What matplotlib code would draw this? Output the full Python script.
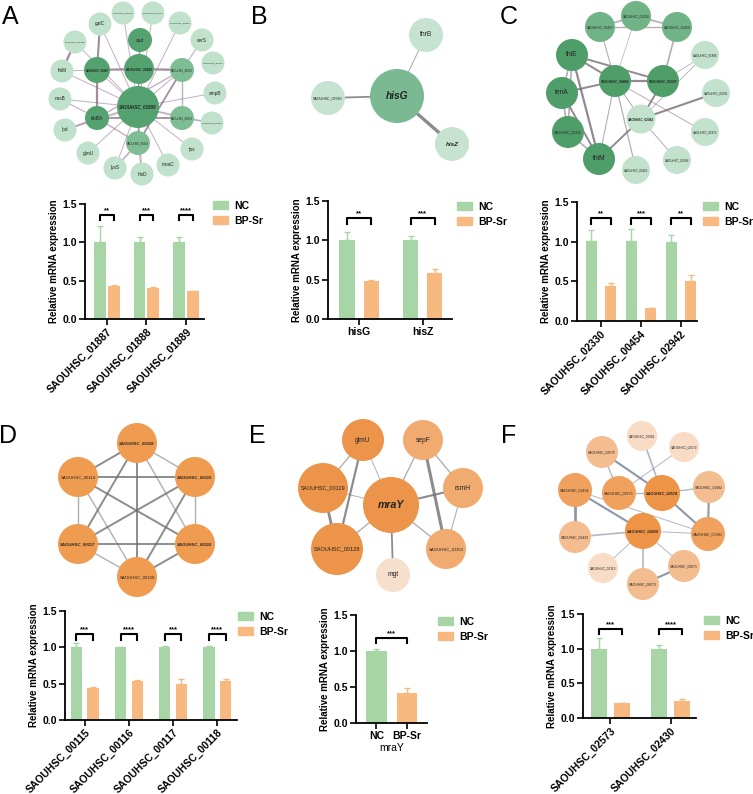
import numpy as np
import matplotlib.pyplot as plt
from matplotlib.patches import Circle, Patch

plt.rcParams['font.family'] = ['Liberation Sans', 'DejaVu Sans']

W, H = 753, 794
GREEN = '#a8d5a5'
ORANGE = '#f7b97f'

# ---------------- qPCR data ----------------
a_genes = ['SAOUHSC_01887', 'SAOUHSC_01888', 'SAOUHSC_01889']
a_nc = [1.01, 1.0, 1.0]
a_nc_err = [0.20, 0.07, 0.07]
a_bp = [0.43, 0.41, 0.36]
a_bp_err = [0.02, 0.01, 0.01]
a_sig = ['**', '***', '****']

b_genes = ['hisG', 'hisZ']
b_nc = [1.0, 1.0]
b_nc_err = [0.10, 0.05]
b_bp = [0.48, 0.59]
b_bp_err = [0.02, 0.04]
b_sig = ['**', '***']

c_genes = ['SAOUHSC_02330', 'SAOUHSC_00454', 'SAOUHSC_02942']
c_nc = [1.01, 1.01, 1.0]
c_nc_err = [0.14, 0.15, 0.09]
c_bp = [0.44, 0.16, 0.51]
c_bp_err = [0.04, 0.01, 0.07]
c_sig = ['**', '***', '**']

d_genes = ['SAOUHSC_00115', 'SAOUHSC_00116', 'SAOUHSC_00117', 'SAOUHSC_00118']
d_nc = [1.0, 1.0, 1.0, 1.0]
d_nc_err = [0.06, 0.01, 0.02, 0.02]
d_bp = [0.44, 0.54, 0.49, 0.53]
d_bp_err = [0.02, 0.01, 0.08, 0.04]
d_sig = ['***', '****', '***', '****']

e_groups = ['NC', 'BP-Sr']
e_vals = [1.0, 0.42]
e_err = [0.03, 0.07]
e_sig = '***'

f_genes = ['SAOUHSC_02573', 'SAOUHSC_02430']
f_nc = [1.0, 1.0]
f_nc_err = [0.15, 0.06]
f_bp = [0.21, 0.25]
f_bp_err = [0.01, 0.02]
f_sig = ['***', '****']

# ---------------- networks ----------------
# node names, cytoscape-like layout (pixel positions), node radius, shade index
a_nodes = ['SAOUHSC_01889', 'asd', 'SAOUHSC_01888', 'SAOUHSC_01887', 'SAOUHSC_01890',
           'ribBA', 'SAOUHSC_01891', 'SAOUHSC_01892', 'SAOUHSC_00476', 'SAOUHSC_00477',
           'SAOUHSC_01894', 'gatC', 'serS', 'SAOUHSC_00899', 'SAOUHSC_02001', 'thiM',
           'ampB', 'nusB', 'SAOUHSC_01902', 'lpd', 'tpx', 'glmU', 'lysS', 'hisD', 'moaC']
a_pos = [(138, 107), (140, 40), (139, 69), (97, 70), (182, 70), (97, 118), (182, 118),
         (138, 143), (123, 13), (153, 13), (180, 23), (100, 24), (202, 40), (75, 42),
         (213, 63), (62, 71), (215, 93), (60, 99), (212, 123), (65, 130), (192, 149),
         (88, 153), (115, 168), (142, 174), (168, 165)]
a_rad = [21, 12, 15, 13, 12, 12, 12, 12] + [11.5] * 17
a_tone = [0, 0, 0, 0, 1, 0, 1, 1] + [2] * 17
a_key = ['SAOUHSC_01889', 'SAOUHSC_01888', 'SAOUHSC_01887']
a_edges = [('SAOUHSC_01889', g, 0.7) for g in a_nodes[1:] if g not in ('serS', 'SAOUHSC_02001')]
a_edges += [('SAOUHSC_01887', 'ribBA', 1.6), ('SAOUHSC_01887', 'SAOUHSC_01888', 1.6),
            ('SAOUHSC_01888', 'asd', 1.2), ('SAOUHSC_01888', 'SAOUHSC_01890', 1.6),
            ('SAOUHSC_01890', 'ribBA', 1.0), ('ribBA', 'SAOUHSC_01892', 1.0),
            ('ribBA', 'lpd', 1.2), ('ribBA', 'nusB', 0.8), ('SAOUHSC_01887', 'gatC', 1.5),
            ('SAOUHSC_01887', 'thiM', 0.7), ('thiM', 'SAOUHSC_00899', 1.6),
            ('SAOUHSC_01890', 'serS', 0.8), ('SAOUHSC_01890', 'SAOUHSC_01891', 1.0),
            ('SAOUHSC_01891', 'SAOUHSC_01902', 0.7), ('ribBA', 'SAOUHSC_01891', 1.3),
            ('SAOUHSC_01892', 'lysS', 1.2), ('SAOUHSC_01892', 'hisD', 0.8),
            ('SAOUHSC_01888', 'SAOUHSC_01892', 0.8), ('SAOUHSC_01890', 'SAOUHSC_01892', 1.3)]
a_pal = ['#55a271', '#7fbe93', '#c0e1cb']

b_nodes = ['hisG', 'thrB', 'SAOUHSC_01580', 'hisZ']
b_pos = [(397, 96), (426, 35), (328, 98), (452, 144)]
b_rad = [27, 17, 17, 17]
b_tone = [1, 2, 2, 2]
b_key = ['hisG', 'hisZ']
b_edges = [('hisG', 'thrB', 0.8), ('hisG', 'SAOUHSC_01580', 1.3), ('hisG', 'hisZ', 2.4)]
b_pal = ['#55a271', '#7bb992', '#c6e2d1']

c_nodes = ['SAOUHSC_00454', 'SAOUHSC_02330', 'SAOUHSC_02942', 'thiE', 'tenA',
           'SAOUHSC_02332', 'thiM', 'SAOUHSC_00457', 'SAOUHSC_00458', 'SAOUHSC_00459',
           'SAOUHSC_01888', 'SAOUHSC_02691', 'SAOUHSC_01972', 'SAOUHSC_01606',
           'SAOUHSC_00110']
c_pos = [(615, 81), (663, 81), (641, 119), (572, 55), (562, 93), (568, 132), (599, 159),
         (600, 27), (636, 16), (677, 27), (705, 55), (716, 93), (705, 132), (677, 160),
         (636, 170)]
c_rad = [16, 16, 14.5, 16, 16, 16, 16, 15, 15, 15, 14, 14, 14, 14, 14]
c_tone = [0, 0, 2, 0, 0, 0, 0, 1, 1, 1, 2, 2, 2, 2, 2]
c_key = ['SAOUHSC_00454', 'SAOUHSC_02330', 'SAOUHSC_02942']
c_edges = [('SAOUHSC_00457', 'SAOUHSC_00458', 1.2), ('SAOUHSC_00458', 'SAOUHSC_00459', 1.2),
           ('SAOUHSC_00457', 'SAOUHSC_00459', 1.0), ('SAOUHSC_00454', 'SAOUHSC_02330', 1.6),
           ('thiE', 'SAOUHSC_00454', 1.4), ('thiE', 'SAOUHSC_02330', 1.4), ('thiE', 'tenA', 1.2),
           ('thiE', 'thiM', 1.6), ('thiE', 'SAOUHSC_02332', 1.2), ('tenA', 'SAOUHSC_00454', 1.4),
           ('tenA', 'SAOUHSC_02332', 1.2), ('tenA', 'thiM', 1.4), ('SAOUHSC_02332', 'thiM', 1.2),
           ('thiM', 'SAOUHSC_00454', 0.8), ('thiM', 'SAOUHSC_02942', 1.4),
           ('SAOUHSC_00454', 'SAOUHSC_02942', 0.8), ('SAOUHSC_02330', 'SAOUHSC_02942', 1.4),
           ('SAOUHSC_00454', 'SAOUHSC_00457', 0.8), ('SAOUHSC_02330', 'SAOUHSC_00459', 1.2),
           ('SAOUHSC_02942', 'SAOUHSC_01888', 0.6), ('SAOUHSC_02942', 'SAOUHSC_02691', 1.5),
           ('SAOUHSC_02942', 'SAOUHSC_01606', 0.7), ('SAOUHSC_00454', 'SAOUHSC_00110', 0.9),
           ('SAOUHSC_00454', 'SAOUHSC_01972', 0.7), ('SAOUHSC_02330', 'SAOUHSC_01888', 0.6),
           ('SAOUHSC_00458', 'SAOUHSC_00454', 0.5)]
c_pal = ['#4f9e6a', '#70b386', '#c2e2cd']

d_nodes = ['SAOUHSC_00118', 'SAOUHSC_00114', 'SAOUHSC_00115', 'SAOUHSC_00117',
           'SAOUHSC_00116', 'SAOUHSC_00120']
d_pos = [(137, 443), (78, 477), (195, 477), (78, 544), (195, 544), (137, 577)]
d_rad = [20] * 6
d_tone = [0] * 6
d_key = ['SAOUHSC_00115', 'SAOUHSC_00116', 'SAOUHSC_00117', 'SAOUHSC_00118']
d_edges = [(d_nodes[i], d_nodes[j], 1.4 if (i + j) % 2 else 1.0)
           for i in range(6) for j in range(i + 1, 6)]
d_pal = ['#ef9b50']

e_nodes = ['mraY', 'glmU', 'sepF', 'SAOUHSC_00129', 'rsmH', 'SAOUHSC_00128',
           'SAOUHSC_01153', 'mgt']
e_pos = [(391, 505), (363, 440), (423, 440), (323, 488), (463, 488), (337, 549),
         (446, 549), (393, 575)]
e_rad = [28, 21, 20, 25, 20, 26, 20, 17]
e_tone = [0, 0, 1, 0, 1, 0, 1, 2]
e_key = ['mraY']
e_edges = [('mraY', 'glmU', 0.7), ('mraY', 'sepF', 1.0), ('mraY', 'SAOUHSC_00129', 0.7),
           ('mraY', 'rsmH', 1.5), ('mraY', 'SAOUHSC_00128', 1.0), ('mraY', 'SAOUHSC_01153', 1.0),
           ('mraY', 'mgt', 1.3), ('glmU', 'SAOUHSC_00129', 1.0), ('glmU', 'SAOUHSC_00128', 1.6),
           ('SAOUHSC_00129', 'SAOUHSC_00128', 2.0), ('sepF', 'rsmH', 1.0),
           ('sepF', 'SAOUHSC_01153', 2.2), ('rsmH', 'SAOUHSC_01153', 0.8)]
e_pal = ['#ec9449', '#f1ab70', '#f6dfcb']

f_nodes = ['SAOUHSC_02430', 'SAOUHSC_02574', 'SAOUHSC_02573', 'SAOUHSC_02434',
           'SAOUHSC_02433', 'SAOUHSC_02575', 'SAOUHSC_00001', 'SAOUHSC_02572',
           'SAOUHSC_01982', 'SAOUHSC_00080', 'SAOUHSC_00071', 'SAOUHSC_00073',
           'SAOUHSC_00113']
f_pos = [(643, 531), (662, 493), (619, 493), (575, 490), (575, 537), (602, 452),
         (642, 436), (684, 447), (709, 487), (708, 534), (684, 566), (643, 584), (603, 568)]
f_rad = [18, 18, 17, 17, 16, 16, 15, 15, 16, 17, 16, 16, 15]
f_tone = [0, 0, 1, 1, 2, 2, 3, 3, 2, 1, 2, 2, 3]
f_key = ['SAOUHSC_02430', 'SAOUHSC_02574']
f_edges = [('SAOUHSC_02574', 'SAOUHSC_02573', 1.0), ('SAOUHSC_02574', 'SAOUHSC_02575', 1.5),
           ('SAOUHSC_02574', 'SAOUHSC_00001', 1.2), ('SAOUHSC_02574', 'SAOUHSC_01982', 1.0),
           ('SAOUHSC_02574', 'SAOUHSC_00080', 1.5), ('SAOUHSC_02573', 'SAOUHSC_02575', 1.0),
           ('SAOUHSC_02573', 'SAOUHSC_02572', 0.7), ('SAOUHSC_02434', 'SAOUHSC_02430', 1.5),
           ('SAOUHSC_02434', 'SAOUHSC_02433', 2.0), ('SAOUHSC_02434', 'SAOUHSC_00080', 0.7),
           ('SAOUHSC_02430', 'SAOUHSC_02433', 1.2), ('SAOUHSC_02430', 'SAOUHSC_00080', 0.7),
           ('SAOUHSC_02430', 'SAOUHSC_00073', 1.2), ('SAOUHSC_02430', 'SAOUHSC_00071', 0.7),
           ('SAOUHSC_02430', 'SAOUHSC_00113', 0.7), ('SAOUHSC_00071', 'SAOUHSC_00073', 1.5),
           ('SAOUHSC_01982', 'SAOUHSC_00080', 1.5)]
f_pal = ['#ee9446', '#f0a15e', '#f4bd8f', '#f8dcc6']

fig = plt.figure(figsize=(W / 100, H / 100), dpi=100)

net = fig.add_axes([0, 0, 1, 1])
net.set_xlim(0, W)
net.set_ylim(H, 0)
net.axis('off')


def draw_net(nodes, pos, rad, tone, key, edges, pal, ecol):
    idx = {g: i for i, g in enumerate(nodes)}
    for g1, g2, w in edges:
        (x1, y1), (x2, y2) = pos[idx[g1]], pos[idx[g2]]
        net.plot([x1, x2], [y1, y2], color=ecol, lw=w, alpha=0.55 + 0.25 * (w > 1.2),
                 zorder=1, solid_capstyle='butt')
    for g, (x, y), r, t in zip(nodes, pos, rad, tone):
        net.add_patch(Circle((x, y), r, facecolor=pal[t], edgecolor='none', zorder=2))
        k = g in key
        if len(g) > 6:
            fs = 0.155 * r
        elif k:
            fs = 0.27 * r
        else:
            fs = min(0.3 * r, 4.8)
        net.text(x, y, g, ha='center', va='center', fontsize=fs, color='#222222',
                 fontweight='bold' if k else 'normal',
                 fontstyle='italic' if k else 'normal', zorder=3)


draw_net(a_nodes, a_pos, a_rad, a_tone, a_key, a_edges, a_pal, '#8c7089')
draw_net(b_nodes, b_pos, b_rad, b_tone, b_key, b_edges, b_pal, '#707070')
draw_net(c_nodes, c_pos, c_rad, c_tone, c_key, c_edges, c_pal, '#7a6a78')
draw_net(d_nodes, d_pos, d_rad, d_tone, d_key, d_edges, d_pal, '#707070')
draw_net(e_nodes, e_pos, e_rad, e_tone, e_key, e_edges, e_pal, '#707070')
draw_net(f_nodes, f_pos, f_rad, f_tone, f_key, f_edges, f_pal, '#6f7f94')

for letter, x, y in [('A', 10, 17), ('B', 259, 17), ('C', 509, 17),
                     ('D', 8, 436), ('E', 257, 436), ('F', 509, 436)]:
    fig.text(x / W, 1 - y / H, letter, fontsize=18, ha='center', va='center')


def px_axes(l, t, r, b):
    return fig.add_axes([l / W, 1 - b / H, (r - l) / W, (b - t) / H])


def style(ax):
    for s in ['top', 'right']:
        ax.spines[s].set_visible(False)
    for s in ['left', 'bottom']:
        ax.spines[s].set_linewidth(1.3)
    ax.set_ylim(0, 1.5)
    ax.set_yticks([0, 0.5, 1.0, 1.5])
    ax.set_yticklabels(['0.0', '0.5', '1.0', '1.5'])
    ax.tick_params(width=1.2, length=4, labelsize=7.5, pad=2)
    ax.tick_params(axis='x', pad=1.5)
    for t in ax.get_yticklabels():
        t.set_fontweight('bold')
    ax.set_ylabel('Relative mRNA expression', fontsize=7, fontweight='bold', labelpad=2)
    ax.patch.set_alpha(0)


def legend(lx, ly):
    handles = [Patch(color=GREEN, label='NC'), Patch(color=ORANGE, label='BP-Sr')]
    fig.legend(handles=handles, loc='upper left', bbox_to_anchor=(lx / W, 1 - ly / H),
               frameon=False, prop={'weight': 'bold', 'size': 7.5}, handlelength=1.4,
               handleheight=0.8, handletextpad=0.6, labelspacing=0.45, borderpad=0,
               borderaxespad=0)


def bracket(ax, x1, x2, y, s):
    ax.plot([x1, x1, x2, x2], [y - 0.075, y, y, y - 0.075], color='k', lw=1.5)
    ax.text((x1 + x2) / 2, y + 0.01, s, ha='center', va='bottom', fontsize=5.5,
            fontweight='bold')


def bar_panel(box, genes, nc, nc_err, bp, bp_err, sig, width, off, xlim, br, rot=6.4):
    ax = px_axes(*box)
    x = np.arange(len(genes))
    ax.bar(x - off, nc, width, color=GREEN)
    ax.bar(x + off, bp, width, color=ORANGE)
    ax.errorbar(x - off, nc, yerr=[np.zeros(len(x)), nc_err], fmt='none', ecolor=GREEN,
                elinewidth=1, capsize=2, capthick=1)
    ax.errorbar(x + off, bp, yerr=[np.zeros(len(x)), bp_err], fmt='none', ecolor=ORANGE,
                elinewidth=1, capsize=2, capthick=1)
    for i, s in enumerate(sig):
        bracket(ax, i - off, i + off, br, s)
    ax.set_xlim(*xlim)
    ax.set_xticks(x)
    if rot:
        ax.set_xticklabels(genes, rotation=45, ha='right', rotation_mode='anchor',
                           fontweight='bold', fontsize=rot)
    else:
        ax.set_xticklabels(genes, fontweight='bold', fontsize=8)
    style(ax)
    return ax


bar_panel((85, 204, 204, 319), a_genes, a_nc, a_nc_err, a_bp, a_bp_err, a_sig,
          0.3, 0.175, (-0.54, 2.44), 1.36)
legend(213, 201)
bar_panel((328, 201, 452, 319), b_genes, b_nc, b_nc_err, b_bp, b_bp_err, b_sig,
          0.24, 0.19, (-0.49, 1.46), 1.28, rot=0)
legend(457, 202)
bar_panel((577, 202, 697, 321), c_genes, c_nc, c_nc_err, c_bp, c_bp_err, c_sig,
          0.27, 0.24, (-0.6, 2.4), 1.3)
legend(703, 202)
bar_panel((65, 611, 237, 720), d_genes, d_nc, d_nc_err, d_bp, d_bp_err, d_sig,
          0.26, 0.19, (-0.45, 3.45), 1.18, rot=5.5)
legend(238, 612)
bar_panel((583, 614, 696, 718), f_genes, f_nc, f_nc_err, f_bp, f_bp_err, f_sig,
          0.26, 0.19, (-0.45, 1.42), 1.28, rot=5.4)
legend(704, 616)

# panel E: single gene, two groups
ax = px_axes(356, 615, 427, 723)
xe = np.arange(len(e_groups))
ax.bar(xe, e_vals, 0.68, color=[GREEN, ORANGE])
for i in range(len(xe)):
    ax.errorbar(xe[i], e_vals[i], yerr=[[0], [e_err[i]]], fmt='none',
                ecolor=[GREEN, ORANGE][i], elinewidth=1, capsize=2, capthick=1)
bracket(ax, 0, 1, 1.18, e_sig)
ax.set_xlim(-0.67, 1.66)
ax.set_xticks(xe)
ax.set_xticklabels(e_groups, fontweight='bold', fontsize=7.5)
ax.set_xlabel('mraY', fontsize=7.5, labelpad=2)
style(ax)
legend(438, 617)

fig.savefig('out.png', dpi=100)
